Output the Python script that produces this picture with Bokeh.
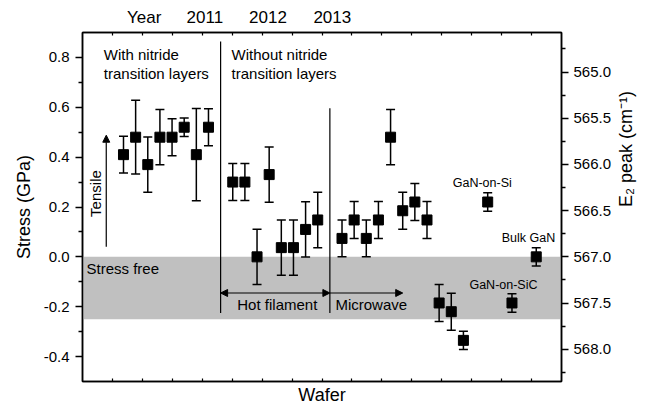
import numpy as np
from bokeh.plotting import figure
from bokeh.models import (Range1d, LinearAxis, FixedTicker, Whisker, TeeHead, ColumnDataSource,
                          BoxAnnotation, Arrow, NormalHead, Label, PrintfTickFormatter)
from bokeh.embed import file_html
from bokeh.resources import INLINE

# ---------------- data ----------------
wafer = [1, 2, 3, 4, 5, 6, 7, 8,
         10, 11, 12, 13, 14, 15, 16, 17,
         19, 20, 21, 22, 23, 24, 25, 26,
         27, 28, 29,
         31, 33, 35]
stress = [0.41, 0.48, 0.37, 0.48, 0.48, 0.52, 0.41, 0.52,
          0.30, 0.30, 0.00, 0.33, 0.037, 0.037, 0.11, 0.148,
          0.074, 0.148, 0.074, 0.148, 0.48, 0.185, 0.22, 0.148,
          -0.185, -0.22, -0.335,
          0.22, -0.185, 0.0]
err = [0.074, 0.148, 0.111, 0.111, 0.074, 0.037, 0.185, 0.074,
       0.074, 0.074, 0.111, 0.111, 0.111, 0.111, 0.111, 0.111,
       0.074, 0.074, 0.074, 0.074, 0.111, 0.074, 0.074, 0.074,
       0.074, 0.074, 0.037,
       0.037, 0.037, 0.037]

year_labels = ["Year", "2011", "2012", "2013"]
year_pos = [2.7, 7.7, 12.9, 18.2]

stress_ticks = [-0.4, -0.2, 0.0, 0.2, 0.4, 0.6, 0.8]
stress_minor = [-0.3, -0.1, 0.1, 0.3, 0.5, 0.7]
peak_ticks = [565.0, 565.5, 566.0, 566.5, 567.0, 567.5, 568.0]
peak_minor = [564.75, 565.25, 565.75, 566.25, 566.75, 567.25, 567.75, 568.25]

divider_x = [9, 18]
divider_top = [0.864, 0.596]
band_top, band_bottom = 0.0, -0.25

FONT = "Liberation Sans"

# ---------------- figure ----------------
x_start, x_end = -2.377, 37.08
y_start, y_end = -0.5, 0.9
p = figure(width=652, height=407, x_range=Range1d(x_start, x_end), y_range=Range1d(y_start, y_end),
           output_backend="svg", toolbar_location=None,
           min_border_left=82, min_border_right=91, min_border_top=32, min_border_bottom=24)
p.extra_y_ranges = {"peak": Range1d(start=567.0 - 2.698 * y_start, end=567.0 - 2.698 * y_end)}
p.xgrid.visible = False
p.ygrid.visible = False
p.outline_line_color = "black"
p.outline_line_width = 1.5
p.outline_line_alpha = 1.0
p.background_fill_color = "white"
p.border_fill_color = "white"

regular = [x_start + k * (x_end - x_start) / 16 for k in range(1, 16)]

# left axis
ya = p.yaxis[0]
ya.ticker = FixedTicker(ticks=stress_ticks, minor_ticks=stress_minor)
ya.formatter = PrintfTickFormatter(format="%.1f")
ya.major_tick_in = 0
ya.major_tick_out = 7
ya.minor_tick_in = 0
ya.minor_tick_out = 4
ya.major_label_standoff = 6
ya.major_label_text_font = FONT
ya.major_label_text_font_size = "15px"
ya.major_label_text_color = "black"
ya.axis_label = "Stress (GPa)"
ya.axis_label_text_font = FONT
ya.axis_label_text_font_size = "18px"
ya.axis_label_text_font_style = "normal"
ya.axis_label_text_color = "black"
ya.axis_label_standoff = 7
ya.axis_line_width = 1.5
ya.major_tick_line_width = 1.5
ya.minor_tick_line_width = 1.5

# bottom axis
xa = p.xaxis[0]
xa.ticker = FixedTicker(ticks=[], minor_ticks=regular)
xa.major_label_text_font_size = "0px"
xa.major_tick_in = 0
xa.major_tick_out = 0
xa.minor_tick_in = 3
xa.minor_tick_out = 0
xa.axis_label = "Wafer"
xa.axis_label_text_font = FONT
xa.axis_label_text_font_size = "18px"
xa.axis_label_text_font_style = "normal"
xa.axis_label_text_color = "black"
xa.axis_label_standoff = 3
xa.axis_line_width = 1.5
xa.minor_tick_line_width = 1.2

# top axis
ta = LinearAxis(ticker=FixedTicker(ticks=year_pos, minor_ticks=regular),
                major_label_overrides={pos: lab for pos, lab in zip(year_pos, year_labels)},
                major_tick_in=0, major_tick_out=0, minor_tick_in=3, minor_tick_out=0,
                major_label_standoff=6, major_label_text_font=FONT,
                major_label_text_font_size="17px", major_label_text_color="black",
                axis_line_width=1.5, minor_tick_line_width=1.2)
p.add_layout(ta, "above")

# right axis
ra = LinearAxis(y_range_name="peak", ticker=FixedTicker(ticks=peak_ticks, minor_ticks=peak_minor),
                formatter=PrintfTickFormatter(format="%.1f"),
                major_tick_in=0, major_tick_out=7, minor_tick_in=0, minor_tick_out=4,
                major_label_standoff=5, major_label_text_font=FONT,
                major_label_text_font_size="15px", major_label_text_color="black",
                axis_label="E\u2082 peak (cm\u207b\u00b9)", axis_label_text_font=FONT,
                axis_label_text_font_size="18px", axis_label_text_font_style="normal",
                axis_label_text_color="black", axis_label_standoff=12,
                axis_line_width=1.5, major_tick_line_width=1.5, minor_tick_line_width=1.5)
if "axis_label_orientation" in ra.properties():
    ra.axis_label_orientation = np.pi / 2
p.add_layout(ra, "right")

# stress-free band
p.add_layout(BoxAnnotation(bottom=band_bottom, top=band_top, fill_color="#c0c0c0", fill_alpha=1.0,
                           line_color=None, level="underlay"))

# dividers
p.segment(x0=divider_x, y0=[-0.225, -0.225], x1=divider_x, y1=divider_top,
          line_color="black", line_width=1.2)

# arrows
def head():
    return NormalHead(size=7, fill_color="black", line_color="black", line_width=1)

p.add_layout(Arrow(x_start=9, y_start=-0.145, x_end=18, y_end=-0.145, start=head(), end=head(),
                   line_color="black", line_width=1.2))
p.add_layout(Arrow(x_start=18, y_start=-0.145, x_end=24, y_end=-0.145, end=head(),
                   line_color="black", line_width=1.2))
p.add_layout(Arrow(x_start=-0.42, y_start=0.041, x_end=-0.42, y_end=0.488, end=head(),
                   line_color="black", line_width=1.2))

# data
src = ColumnDataSource(dict(wafer=wafer, stress=stress,
                            upper=[s + e for s, e in zip(stress, err)],
                            lower=[s - e for s, e in zip(stress, err)]))
p.add_layout(Whisker(source=src, base="wafer", upper="upper", lower="lower",
                     line_color="black", line_width=1.5,
                     upper_head=TeeHead(size=9, line_color="black", line_width=1.5),
                     lower_head=TeeHead(size=9, line_color="black", line_width=1.5)))
p.scatter("wafer", "stress", source=src, marker="square", size=10, color="black")

# text labels
def lab(x, y, text, size="15px", align="left", angle=0.0):
    p.add_layout(Label(x=x, y=y, text=text, text_font=FONT, text_font_size=size, text_color="black",
                       text_align=align, text_baseline="middle", angle=angle))

lab(-0.62, 0.812, "With nitride")
lab(-0.62, 0.737, "transition layers")
lab(9.9, 0.812, "Without nitride")
lab(9.9, 0.737, "transition layers")
lab(-1.31, 0.254, "Tensile", angle=np.pi / 2, align="center")
lab(-2.05, -0.048, "Stress free")
lab(13.67, -0.192, "Hot filament", align="center")
lab(18.46, -0.192, "Microwave")
lab(30.55, 0.297, "GaN-on-Si", size="12.5px", align="center")
lab(34.36, 0.077, "Bulk GaN", size="12.5px", align="center")
lab(32.3, -0.112, "GaN-on-SiC", size="12.5px", align="center")

open("out.html", "w").write(file_html(p, INLINE))
